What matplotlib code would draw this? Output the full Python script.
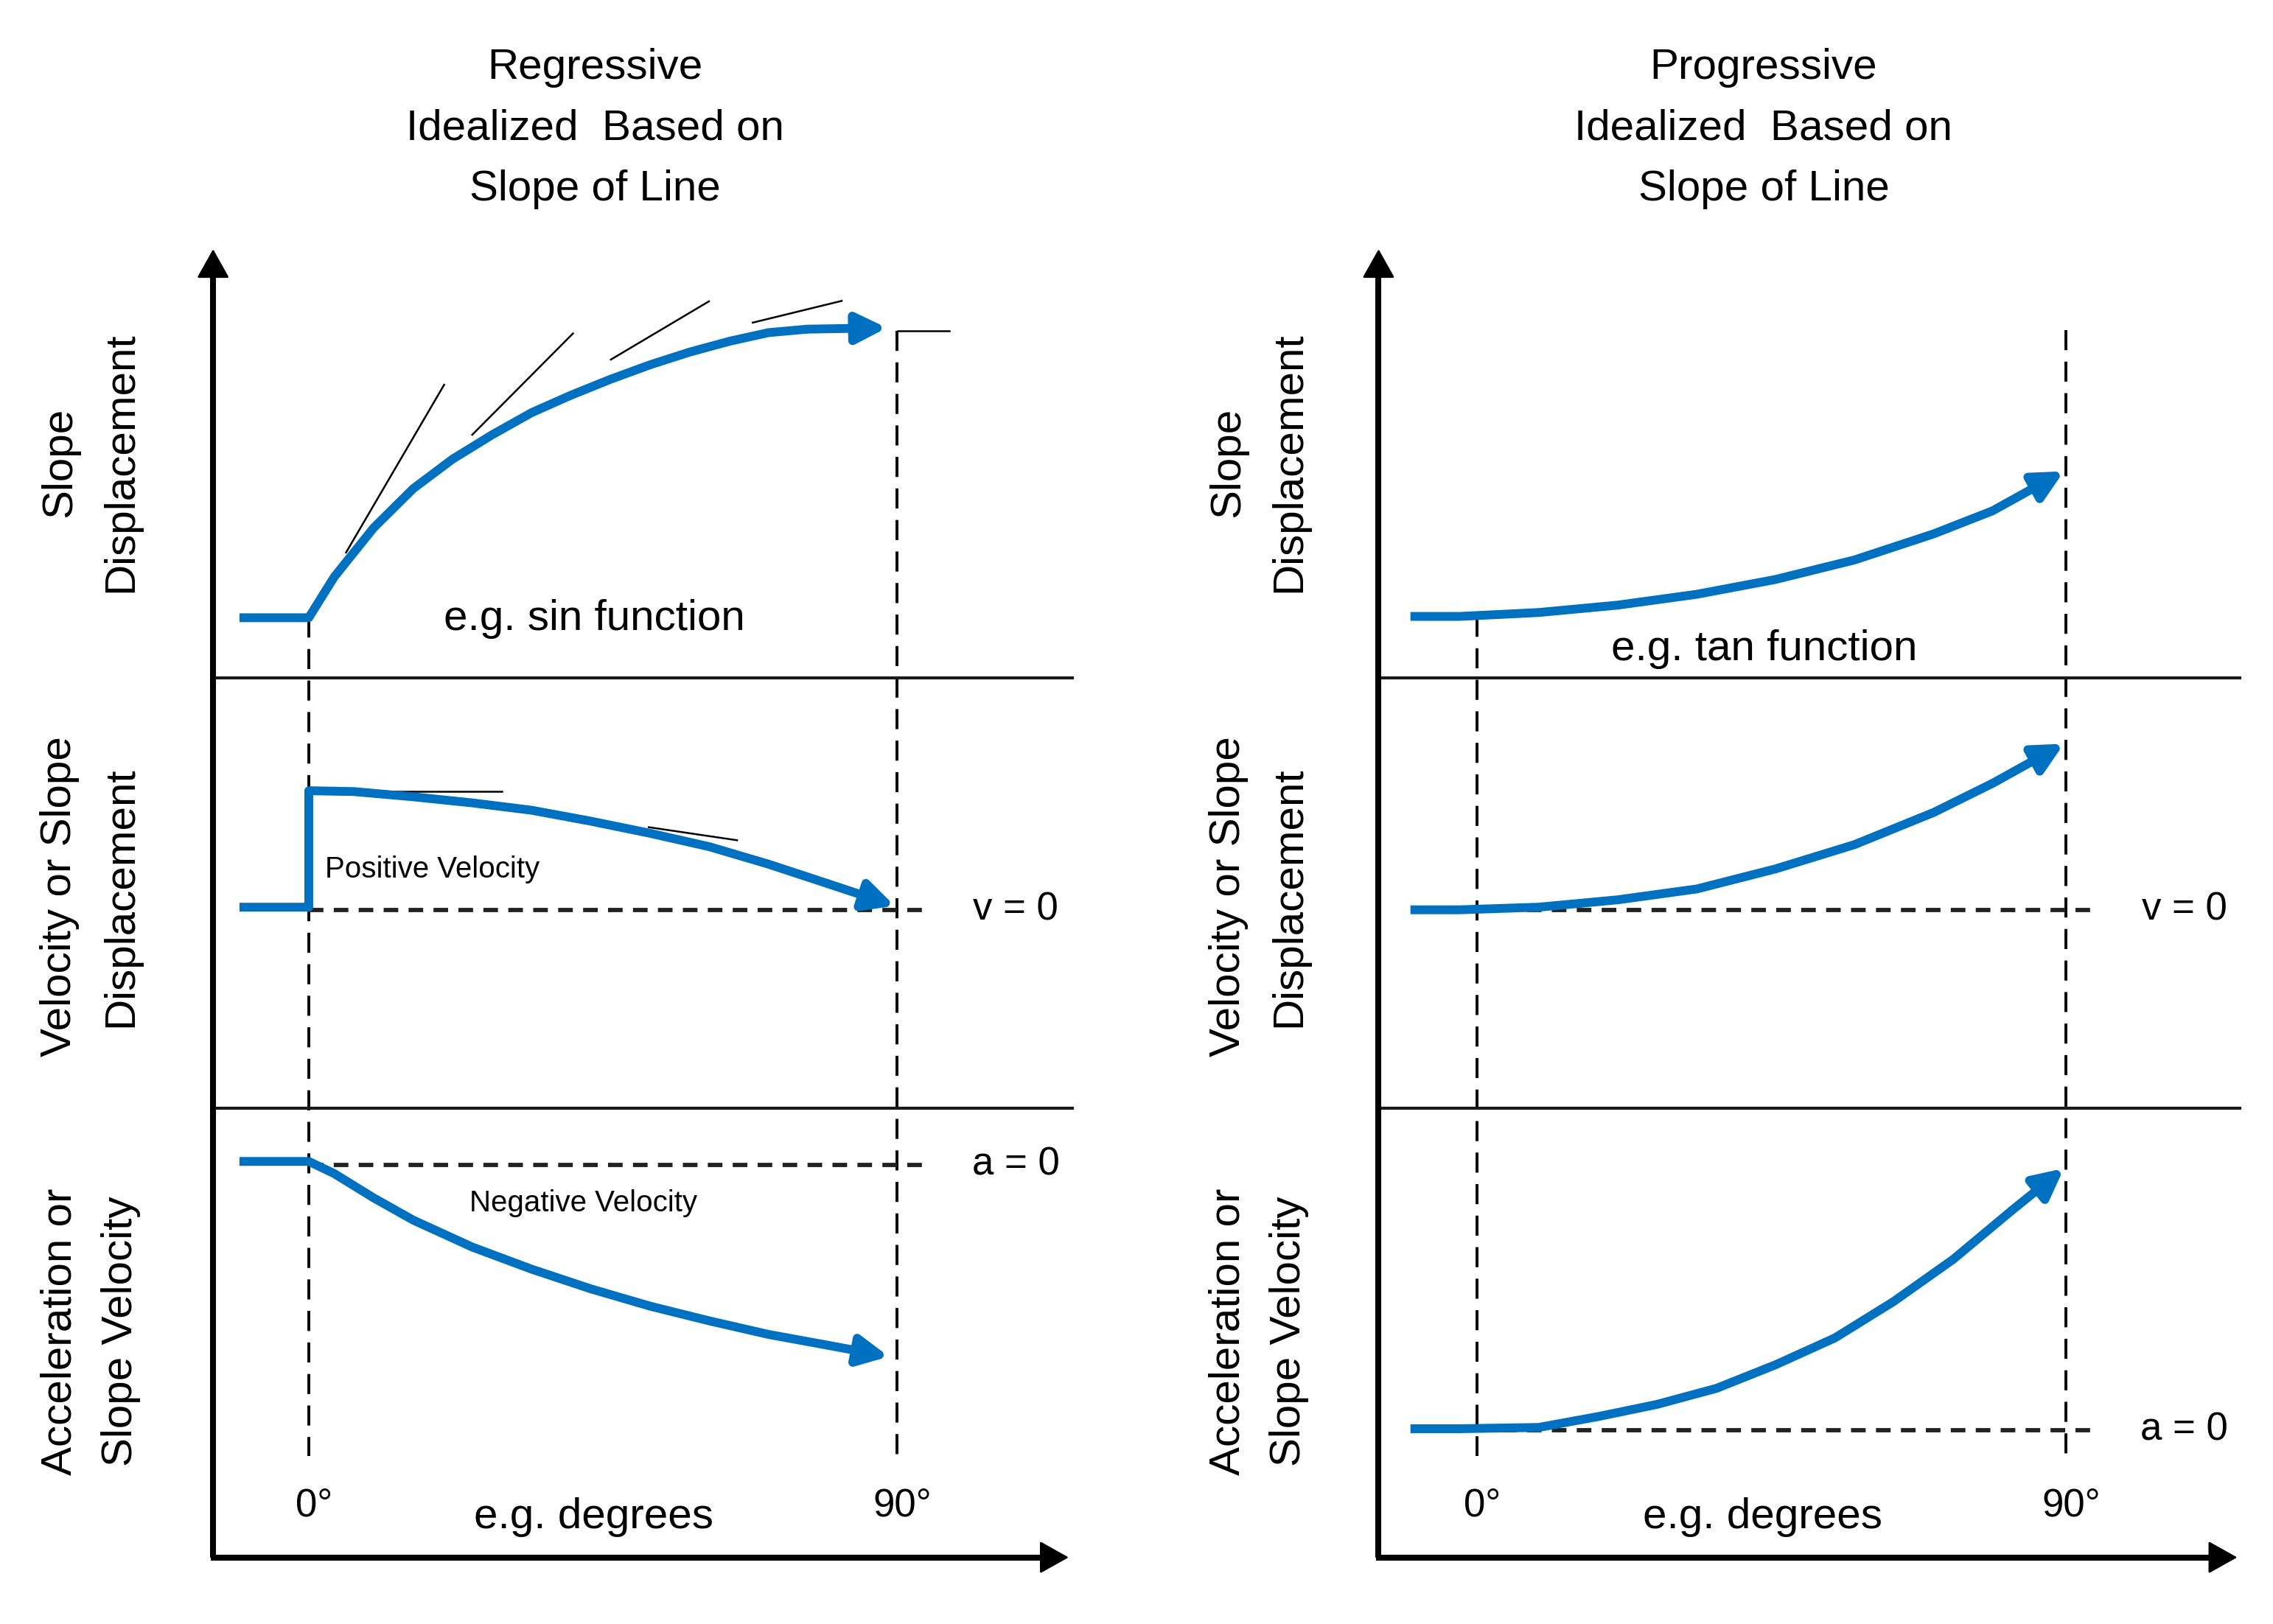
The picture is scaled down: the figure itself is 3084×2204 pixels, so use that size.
import numpy as np
import matplotlib
matplotlib.use('Agg')
import matplotlib.pyplot as plt

plt.rcParams['font.family'] = ['Liberation Sans Narrow', 'Liberation Sans', 'DejaVu Sans']

# x in degrees, y in panel units (bottom panel 0-1, middle 1-2, top 2-3)
titles = ['Regressive\nIdealized  Based on\nSlope of Line',
          'Progressive\nIdealized  Based on\nSlope of Line']
ylabels = ['Slope\nDisplacement', 'Velocity or Slope\nDisplacement',
           'Acceleration or\nSlope Velocity']
ylabel_pos = [2.52, 1.52, 0.52]
tick_deg = [0, 90]
tick_labels = ['0°', '90°']
notes = ['e.g. sin function', 'e.g. tan function']
notes_pos = [(43.7, 2.16), (43.9, 2.09)]

# regressive column
reg_disp_x = [-10.6, 0, 3.9, 9.93, 15.97, 22.0, 28.05, 34.1, 40.1, 46.2, 52.2, 58.2, 64.3, 70.3, 76.3, 88.4]
reg_disp_y = [2.162, 2.162, 2.256, 2.369, 2.459, 2.527, 2.583, 2.634, 2.674, 2.711, 2.744, 2.773, 2.798, 2.818, 2.826, 2.829]
reg_vel_x = [-10.6, 0, 0, 6.9, 15.97, 25.0, 34.1, 43.1, 52.2, 61.3, 70.3, 79.4, 89.6]
reg_vel_y = [1.496, 1.496, 1.764, 1.762, 1.750, 1.736, 1.719, 1.694, 1.666, 1.635, 1.595, 1.55, 1.499]
reg_acc_x = [-10.6, 0, 3.9, 9.93, 15.97, 25.0, 34.1, 43.1, 52.2, 61.3, 70.3, 79.4, 88.7]
reg_acc_y = [0.911, 0.911, 0.883, 0.827, 0.776, 0.714, 0.663, 0.618, 0.578, 0.544, 0.513, 0.488, 0.462]
reg_tangents = [((5.7, 20.7), (2.312, 2.698)),
                ((25.0, 40.4), (2.583, 2.816)),
                ((46.2, 61.2), (2.756, 2.89)),
                ((67.9, 81.5), (2.841, 2.891)),
                ((90.05, 97.96), (2.822, 2.822)),
                ((0.1, 29.5), (1.762, 1.762)),
                ((52.0, 65.5), (1.680, 1.650))]

# progressive column
pro_disp_x = [-10.2, -2.7, 9.4, 21.5, 33.6, 45.6, 57.7, 69.8, 78.8, 89.7]
pro_disp_y = [2.165, 2.165, 2.174, 2.191, 2.216, 2.25, 2.295, 2.355, 2.408, 2.499]
pro_vel_x = [-10.2, -2.7, 9.4, 21.5, 33.6, 45.6, 57.7, 69.8, 78.8, 89.7]
pro_vel_y = [1.49, 1.49, 1.496, 1.513, 1.538, 1.584, 1.64, 1.714, 1.781, 1.872]
pro_acc_x = [-10.2, -2.7, 9.4, 18.5, 27.5, 36.6, 45.6, 54.7, 63.7, 72.8, 81.8, 89.7]
pro_acc_y = [0.296, 0.296, 0.299, 0.324, 0.352, 0.389, 0.443, 0.505, 0.589, 0.686, 0.799, 0.895]

zero_lines = [(1.49, 'v = 0'), (0.903, 'a = 0')]
zero_lines_pro = [(1.49, 'v = 0'), (0.293, 'a = 0')]

blue = '#0070C0'
fig = plt.figure(figsize=(15.42, 11.02), dpi=200)
ax_l = fig.add_axes([0, 0, 0.5, 1])
ax_r = fig.add_axes([0.5, 0, 0.5, 1])
ax_l.set_xlim(-47.22, 126.58)
ax_r.set_xlim(-52.08, 121.67)
for ax in (ax_l, ax_r):
    ax.set_ylim(-0.1533, 3.5833)
    ax.axis('off')


def blue_curve(ax, xs, ys):
    ax.plot(xs[:-1], ys[:-1], color=blue, lw=4.3, solid_joinstyle='round',
            solid_capstyle='butt')
    ax.annotate('', xy=(xs[-1], ys[-1]), xytext=(xs[-2], ys[-2]),
                arrowprops=dict(arrowstyle='-|>,head_length=0.6,head_width=0.3',
                                color=blue, lw=4.3, mutation_scale=20,
                                shrinkA=0, shrinkB=0))


def frame(ax, x_axis, x_end, x_sep, top_dash, col):
    # dashed guides
    ax.plot([0, 0], [top_dash[0], 0.233], color='k', lw=1.4, ls=(0, (7, 4)))
    ax.plot([90, 90], [top_dash[1], 0.233], color='k', lw=1.4, ls=(0, (7, 4)))
    # separators
    for yy in (2.023, 1.033):
        ax.plot([x_axis, x_sep], [yy, yy], color='#1a1a1a', lw=1.5)
    # axes arrows
    ax.plot([x_axis - 0.4, x_end - 2], [0, 0], color='k', lw=2.9, solid_capstyle='butt')
    ax.annotate('', xy=(x_end, 0), xytext=(x_end - 4, 0),
                arrowprops=dict(arrowstyle='-|>,head_length=0.5,head_width=0.28',
                                color='k', lw=1, mutation_scale=25, shrinkA=0, shrinkB=0))
    ax.plot([x_axis, x_axis], [0, 2.96], color='k', lw=2.9, solid_capstyle='butt')
    ax.annotate('', xy=(x_axis, 3.01), xytext=(x_axis, 2.93),
                arrowprops=dict(arrowstyle='-|>,head_length=0.5,head_width=0.28',
                                color='k', lw=1, mutation_scale=25, shrinkA=0, shrinkB=0))
    # texts
    ax.text(43.8, 3.287, titles[col], ha='center', va='center', fontsize=21,
            linespacing=1.68)
    for lab, yy in zip(ylabels, ylabel_pos):
        ax.text(-33.4, yy, lab, rotation=90, ha='center', va='center',
                fontsize=21, linespacing=1.68, multialignment='center')
    for d, t in zip(tick_deg, tick_labels):
        ax.text(d + 0.8, 0.118, t, ha='center', va='center', fontsize=19)
    ax.text(43.6, 0.092, 'e.g. degrees', ha='center', va='center', fontsize=21)
    ax.text(notes_pos[col][0], notes_pos[col][1], notes[col], ha='center',
            va='center', fontsize=21)


frame(ax_l, -14.63, 116.2, 116.8, (2.162, 2.822), 0)
frame(ax_r, -15.07, 116.2, 116.6, (2.165, 2.823), 1)

for ax, zl in ((ax_l, zero_lines), (ax_r, zero_lines_pro)):
    for yy, lab in zl:
        ax.plot([0, 95.0], [yy, yy], color='#222222', lw=2.1, ls=(0, (3.4, 2.4)))
        ax.text(108.1, yy, lab, ha='center', va='center', fontsize=19)

for (xx, yy) in reg_tangents:
    ax_l.plot(xx, yy, color='k', lw=0.9)

blue_curve(ax_l, reg_disp_x, reg_disp_y)
blue_curve(ax_l, reg_vel_x, reg_vel_y)
blue_curve(ax_l, reg_acc_x, reg_acc_y)
blue_curve(ax_r, pro_disp_x, pro_disp_y)
blue_curve(ax_r, pro_vel_x, pro_vel_y)
blue_curve(ax_r, pro_acc_x, pro_acc_y)

ax_l.text(2.5, 1.583, 'Positive Velocity', ha='left', va='center', fontsize=14.5)
ax_l.text(42.0, 0.815, 'Negative Velocity', ha='center', va='center', fontsize=14.5)

fig.savefig('out.png', dpi=200, facecolor='white')
